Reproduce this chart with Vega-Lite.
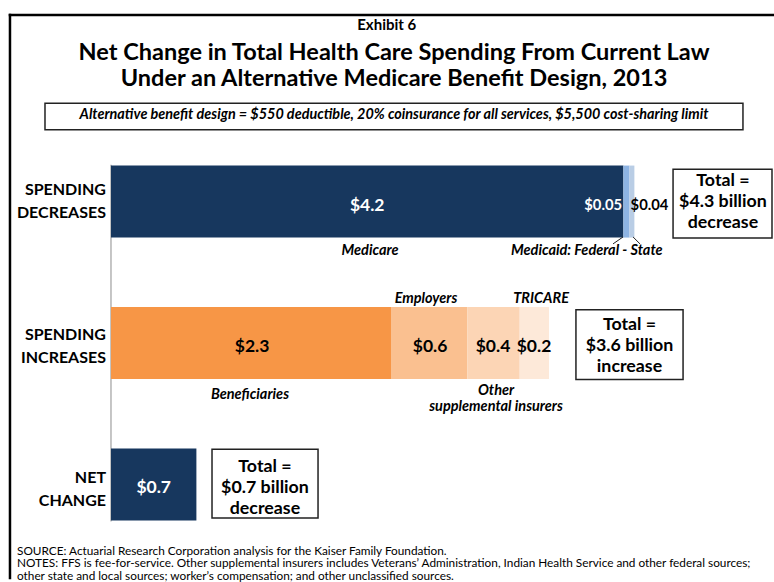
{
  "$schema": "https://vega.github.io/schema/vega-lite/v6.json",
  "width": 774,
  "height": 582,
  "autosize": {"type": "none"},
  "padding": 0,
  "background": "white",
  "config": {"view": {"stroke": null}},
  "datasets": {
    "bars": [
      {"row": 0, "segment": "Medicare", "value": 4.2, "order": 1},
      {"row": 0, "segment": "Medicaid: Federal", "value": 0.05, "order": 2},
      {"row": 0, "segment": "Medicaid: State", "value": 0.04, "order": 3},
      {"row": 1, "segment": "Beneficiaries", "value": 2.3, "order": 1},
      {"row": 1, "segment": "Employers", "value": 0.62, "order": 2},
      {"row": 1, "segment": "Other supplemental insurers", "value": 0.43, "order": 3},
      {"row": 1, "segment": "TRICARE", "value": 0.24, "order": 4},
      {"row": 2, "segment": "Net change", "value": 0.7, "order": 1}
    ],
    "boxes": [
      {"name": "design", "x": -0.541, "x2": 5.18, "y": -0.694, "y2": -0.507},
      {"name": "decrease", "x": 4.607, "x2": 5.418, "y": -0.229, "y2": 0.257},
      {"name": "increase", "x": 3.811, "x2": 4.689, "y": 0.764, "y2": 1.257},
      {"name": "net", "x": 0.828, "x2": 1.697, "y": 1.75, "y2": 2.236}
    ],
    "rules": [
      {"kind": "frame", "x": -0.828, "x2": -0.828, "y": -1.319, "y2": 2.66},
      {"kind": "frame", "x": -0.828, "x2": 5.44, "y": -1.319, "y2": -1.319},
      {"kind": "axis", "x": 0, "x2": 0, "y": -0.26, "y2": 2.26},
      {"kind": "leader", "x": 4.197, "x2": 4.115, "y": 0.25, "y2": 0.299},
      {"kind": "leader", "x": 4.279, "x2": 4.336, "y": 0.25, "y2": 0.299}
    ],
    "labels": [
      {"kind": "exhibit", "text": "Exhibit 6", "x": 2.26, "row": -1.215},
      {"kind": "title", "text": "Net Change in Total Health Care Spending From Current Law", "x": 2.32, "row": -0.997},
      {"kind": "title", "text": "Under an Alternative Medicare Benefit Design, 2013", "x": 2.32, "row": -0.816},
      {"kind": "white", "text": "$4.2", "x": 2.1, "row": 0.028},
      {"kind": "white", "text": "$0.7", "x": 0.35, "row": 2.021},
      {"kind": "whiteRight", "text": "$0.05", "x": 4.189, "row": 0.028},
      {"kind": "black", "text": "$2.3", "x": 1.156, "row": 1.028},
      {"kind": "black", "text": "$0.6", "x": 2.615, "row": 1.028},
      {"kind": "black", "text": "$0.4", "x": 3.131, "row": 1.028},
      {"kind": "black", "text": "$0.2", "x": 3.467, "row": 1.028},
      {"kind": "blackSmall", "text": "$0.04", "x": 4.414, "row": 0.028},
      {"kind": "italic", "text": "Medicare", "x": 2.123, "row": 0.347},
      {"kind": "italic", "text": "Medicaid: Federal - State", "x": 3.9, "row": 0.347},
      {"kind": "italic", "text": "Employers", "x": 2.582, "row": 0.688},
      {"kind": "italic", "text": "TRICARE", "x": 3.525, "row": 0.688},
      {"kind": "italic", "text": "Beneficiaries", "x": 1.139, "row": 1.368},
      {"kind": "italic", "text": "Other\nsupplemental insurers", "x": 3.156, "row": 1.34},
      {"kind": "rowlabel", "text": "SPENDING\nDECREASES", "x": -0.041, "row": -0.083},
      {"kind": "rowlabel", "text": "SPENDING\nINCREASES", "x": -0.041, "row": 0.945},
      {"kind": "rowlabel", "text": "NET\nCHANGE", "x": -0.041, "row": 1.952},
      {"kind": "box", "text": "Total =\n$4.3 billion\ndecrease", "x": 5.016, "row": -0.143},
      {"kind": "box", "text": "Total =\n$3.6 billion\nincrease", "x": 4.25, "row": 0.875},
      {"kind": "box", "text": "Total =\n$0.7 billion\ndecrease", "x": 1.262, "row": 1.875},
      {"kind": "design", "text": "Alternative benefit design = $550 deductible, 20% coinsurance for all services, $5,500 cost-sharing limit", "x": 2.32, "row": -0.615},
      {"kind": "footer", "text": "SOURCE: Actuarial Research Corporation analysis for the Kaiser Family Foundation.\nNOTES: FFS is fee-for-service. Other supplemental insurers includes Veterans’ Administration, Indian Health Service and other federal sources;\nother state and local sources; worker’s compensation; and other unclassified sources.", "x": -0.7705, "row": 2.466}
    ]
  },
  "layer": [
    {
      "data": {"name": "rules"},
      "transform": [{"filter": "datum.kind == 'frame'"}],
      "mark": {"type": "rule", "color": "black", "strokeWidth": 2.5, "strokeCap": "square"},
      "encoding": {
        "x": {"field": "x", "type": "quantitative", "scale": {"domain": [-0.9098, 5.4344], "nice": false, "zero": false}, "axis": null},
        "x2": {"field": "x2"},
        "y": {"field": "y", "type": "quantitative", "scale": {"domain": [-1.3889, 2.6528], "nice": false, "zero": false, "reverse": true}, "axis": null},
        "y2": {"field": "y2"}
      }
    },
    {
      "data": {"name": "boxes"},
      "mark": {"type": "rect", "fill": "white", "stroke": "#222222", "strokeWidth": 1.5},
      "encoding": {
        "x": {"field": "x", "type": "quantitative", "scale": {"domain": [-0.9098, 5.4344], "nice": false, "zero": false}, "axis": null},
        "x2": {"field": "x2"},
        "y": {"field": "y", "type": "quantitative", "scale": {"domain": [-1.3889, 2.6528], "nice": false, "zero": false, "reverse": true}, "axis": null},
        "y2": {"field": "y2"}
      }
    },
    {
      "data": {"name": "rules"},
      "transform": [{"filter": "datum.kind == 'axis'"}],
      "mark": {"type": "rule", "color": "#8c8c8c", "strokeWidth": 1},
      "encoding": {
        "x": {"field": "x", "type": "quantitative", "scale": {"domain": [-0.9098, 5.4344], "nice": false, "zero": false}, "axis": null},
        "x2": {"field": "x2"},
        "y": {"field": "y", "type": "quantitative", "scale": {"domain": [-1.3889, 2.6528], "nice": false, "zero": false, "reverse": true}, "axis": null},
        "y2": {"field": "y2"}
      }
    },
    {
      "data": {"name": "bars"},
      "mark": {"type": "bar", "orient": "horizontal", "size": 72},
      "encoding": {
        "x": {"field": "value", "type": "quantitative", "stack": "zero", "scale": {"domain": [-0.9098, 5.4344], "nice": false, "zero": false}, "axis": null},
        "y": {"field": "row", "type": "quantitative", "scale": {"domain": [-1.3889, 2.6528], "nice": false, "zero": false, "reverse": true}, "axis": null},
        "color": {
          "field": "segment",
          "type": "nominal",
          "scale": {
            "domain": ["Medicare", "Medicaid: Federal", "Medicaid: State", "Beneficiaries", "Employers", "Other supplemental insurers", "TRICARE", "Net change"],
            "range": ["#17375E", "#8EB4E3", "#B9CDE5", "#F79646", "#FAC090", "#FCD5B5", "#FDE9D9", "#17375E"]
          },
          "legend": null
        },
        "order": {"field": "order", "type": "quantitative"}
      }
    },
    {
      "data": {"name": "rules"},
      "transform": [{"filter": "datum.kind == 'leader'"}],
      "mark": {"type": "rule", "color": "#222222", "strokeWidth": 1},
      "encoding": {
        "x": {"field": "x", "type": "quantitative", "scale": {"domain": [-0.9098, 5.4344], "nice": false, "zero": false}, "axis": null},
        "x2": {"field": "x2"},
        "y": {"field": "y", "type": "quantitative", "scale": {"domain": [-1.3889, 2.6528], "nice": false, "zero": false, "reverse": true}, "axis": null},
        "y2": {"field": "y2"}
      }
    },
    {
      "data": {"name": "labels"},
      "transform": [{"filter": "datum.kind == 'exhibit'"}],
      "mark": {"type": "text", "font": "Lato", "fontSize": 15, "fontWeight": "bold", "color": "black", "align": "center", "baseline": "alphabetic"},
      "encoding": {
        "x": {"field": "x", "type": "quantitative", "scale": {"domain": [-0.9098, 5.4344], "nice": false, "zero": false}, "axis": null},
        "y": {"field": "row", "type": "quantitative", "scale": {"domain": [-1.3889, 2.6528], "nice": false, "zero": false, "reverse": true}, "axis": null},
        "text": {"field": "text"}
      }
    },
    {
      "data": {"name": "labels"},
      "transform": [{"filter": "datum.kind == 'title'"}],
      "mark": {"type": "text", "font": "Lato", "fontSize": 23.5, "fontWeight": "bold", "color": "black", "align": "center", "baseline": "alphabetic"},
      "encoding": {
        "x": {"field": "x", "type": "quantitative", "scale": {"domain": [-0.9098, 5.4344], "nice": false, "zero": false}, "axis": null},
        "y": {"field": "row", "type": "quantitative", "scale": {"domain": [-1.3889, 2.6528], "nice": false, "zero": false, "reverse": true}, "axis": null},
        "text": {"field": "text"}
      }
    },
    {
      "data": {"name": "labels"},
      "transform": [{"filter": "datum.kind == 'white'"}],
      "mark": {"type": "text", "font": "Lato", "fontSize": 17.5, "fontWeight": "bold", "color": "white", "align": "center", "baseline": "middle"},
      "encoding": {
        "x": {"field": "x", "type": "quantitative", "scale": {"domain": [-0.9098, 5.4344], "nice": false, "zero": false}, "axis": null},
        "y": {"field": "row", "type": "quantitative", "scale": {"domain": [-1.3889, 2.6528], "nice": false, "zero": false, "reverse": true}, "axis": null},
        "text": {"field": "text"}
      }
    },
    {
      "data": {"name": "labels"},
      "transform": [{"filter": "datum.kind == 'whiteRight'"}],
      "mark": {"type": "text", "font": "Lato", "fontSize": 14.8, "fontWeight": "bold", "color": "white", "align": "right", "baseline": "middle"},
      "encoding": {
        "x": {"field": "x", "type": "quantitative", "scale": {"domain": [-0.9098, 5.4344], "nice": false, "zero": false}, "axis": null},
        "y": {"field": "row", "type": "quantitative", "scale": {"domain": [-1.3889, 2.6528], "nice": false, "zero": false, "reverse": true}, "axis": null},
        "text": {"field": "text"}
      }
    },
    {
      "data": {"name": "labels"},
      "transform": [{"filter": "datum.kind == 'black'"}],
      "mark": {"type": "text", "font": "Lato", "fontSize": 17.5, "fontWeight": "bold", "color": "black", "align": "center", "baseline": "middle"},
      "encoding": {
        "x": {"field": "x", "type": "quantitative", "scale": {"domain": [-0.9098, 5.4344], "nice": false, "zero": false}, "axis": null},
        "y": {"field": "row", "type": "quantitative", "scale": {"domain": [-1.3889, 2.6528], "nice": false, "zero": false, "reverse": true}, "axis": null},
        "text": {"field": "text"}
      }
    },
    {
      "data": {"name": "labels"},
      "transform": [{"filter": "datum.kind == 'blackSmall'"}],
      "mark": {"type": "text", "font": "Lato", "fontSize": 14.8, "fontWeight": "bold", "color": "black", "align": "center", "baseline": "middle"},
      "encoding": {
        "x": {"field": "x", "type": "quantitative", "scale": {"domain": [-0.9098, 5.4344], "nice": false, "zero": false}, "axis": null},
        "y": {"field": "row", "type": "quantitative", "scale": {"domain": [-1.3889, 2.6528], "nice": false, "zero": false, "reverse": true}, "axis": null},
        "text": {"field": "text"}
      }
    },
    {
      "data": {"name": "labels"},
      "transform": [{"filter": "datum.kind == 'italic'"}],
      "mark": {"type": "text", "font": "Lato", "fontSize": 14.5, "fontWeight": "bold", "fontStyle": "italic", "color": "black", "align": "center", "baseline": "middle", "lineBreak": "\n", "lineHeight": 15.5},
      "encoding": {
        "x": {"field": "x", "type": "quantitative", "scale": {"domain": [-0.9098, 5.4344], "nice": false, "zero": false}, "axis": null},
        "y": {"field": "row", "type": "quantitative", "scale": {"domain": [-1.3889, 2.6528], "nice": false, "zero": false, "reverse": true}, "axis": null},
        "text": {"field": "text"}
      }
    },
    {
      "data": {"name": "labels"},
      "transform": [{"filter": "datum.kind == 'rowlabel'"}],
      "mark": {"type": "text", "font": "Lato", "fontSize": 16, "fontWeight": "bold", "color": "black", "align": "right", "baseline": "middle", "lineBreak": "\n", "lineHeight": 23},
      "encoding": {
        "x": {"field": "x", "type": "quantitative", "scale": {"domain": [-0.9098, 5.4344], "nice": false, "zero": false}, "axis": null},
        "y": {"field": "row", "type": "quantitative", "scale": {"domain": [-1.3889, 2.6528], "nice": false, "zero": false, "reverse": true}, "axis": null},
        "text": {"field": "text"}
      }
    },
    {
      "data": {"name": "labels"},
      "transform": [{"filter": "datum.kind == 'box'"}],
      "mark": {"type": "text", "font": "Lato", "fontSize": 17.8, "fontWeight": "bold", "color": "black", "align": "center", "baseline": "middle", "lineBreak": "\n", "lineHeight": 21},
      "encoding": {
        "x": {"field": "x", "type": "quantitative", "scale": {"domain": [-0.9098, 5.4344], "nice": false, "zero": false}, "axis": null},
        "y": {"field": "row", "type": "quantitative", "scale": {"domain": [-1.3889, 2.6528], "nice": false, "zero": false, "reverse": true}, "axis": null},
        "text": {"field": "text"}
      }
    },
    {
      "data": {"name": "labels"},
      "transform": [{"filter": "datum.kind == 'design'"}],
      "mark": {"type": "text", "font": "Lato", "fontSize": 14.4, "fontWeight": "bold", "fontStyle": "italic", "color": "black", "align": "center", "baseline": "middle"},
      "encoding": {
        "x": {"field": "x", "type": "quantitative", "scale": {"domain": [-0.9098, 5.4344], "nice": false, "zero": false}, "axis": null},
        "y": {"field": "row", "type": "quantitative", "scale": {"domain": [-1.3889, 2.6528], "nice": false, "zero": false, "reverse": true}, "axis": null},
        "text": {"field": "text"}
      }
    },
    {
      "data": {"name": "labels"},
      "transform": [{"filter": "datum.kind == 'footer'"}],
      "mark": {"type": "text", "font": "Lato", "fontSize": 11.8, "color": "black", "align": "left", "baseline": "middle", "lineBreak": "\n", "lineHeight": 12.8},
      "encoding": {
        "x": {"field": "x", "type": "quantitative", "scale": {"domain": [-0.9098, 5.4344], "nice": false, "zero": false}, "axis": null},
        "y": {"field": "row", "type": "quantitative", "scale": {"domain": [-1.3889, 2.6528], "nice": false, "zero": false, "reverse": true}, "axis": null},
        "text": {"field": "text"}
      }
    }
  ]
}
